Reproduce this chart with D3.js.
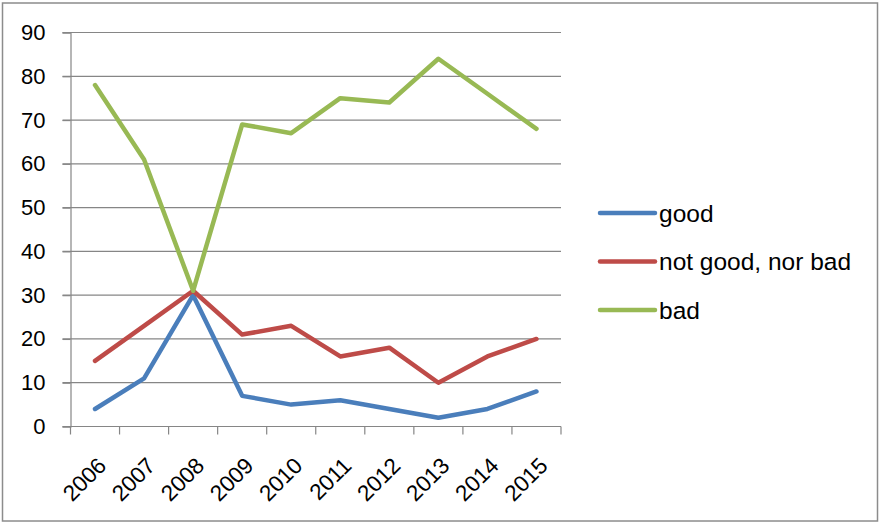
<!DOCTYPE html>
<html>
<head>
<meta charset="utf-8">
<script src="https://cdn.jsdelivr.net/npm/d3@7"></script>
<style>
  html, body { margin: 0; padding: 0; background: #fff; }
  svg { display: block; }
  text { font-family: "Liberation Sans", Arial, sans-serif; fill: #000; }
</style>
</head>
<body>
<svg id="chart" width="880" height="523"></svg>
<script>
// Survey answers per year
const years = ["2006","2007","2008","2009","2010","2011","2012","2013","2014","2015"];
const good = [4, 11, 30, 7, 5, 6, 4, 2, 4, 8];
const neutral = [15, 23, 31, 21, 23, 16, 18, 10, 16, 20];
const bad = [78, 61, 31, 69, 67, 75, 74, 84, 76, 68];
const seriesNames = ["good", "not good, nor bad", "bad"];
const seriesColors = ["#4A7EBB", "#BE4B48", "#98B954"];
const yTicks = [0, 10, 20, 30, 40, 50, 60, 70, 80, 90];

const series = [good, neutral, bad].map((vals, i) => ({
  name: seriesNames[i],
  color: seriesColors[i],
  values: vals.map((v, j) => ({ year: years[j], value: v }))
}));

const svg = d3.select("#chart");
const margin = { left: 70.5, right: 561, top: 32.5, bottom: 426.5 };

// outer frame
svg.append("rect")
  .attr("x", 2.5).attr("y", 3).attr("width", 875).attr("height", 518)
  .attr("fill", "#fff").attr("stroke", "#8c8c8c").attr("stroke-width", 1.5);

const x = d3.scaleBand().domain(years).range([margin.left, margin.right]);
const y = d3.scaleLinear().domain([0, 90]).range([margin.bottom, margin.top]);

// horizontal gridlines
svg.append("g")
  .selectAll("line")
  .data(yTicks)
  .join("line")
  .attr("x1", margin.left - 8).attr("x2", margin.right)
  .attr("y1", d => y(d)).attr("y2", d => y(d))
  .attr("stroke", "#868686").attr("stroke-width", 1.2);

// y axis
const yAxis = svg.append("g")
  .attr("transform", `translate(${margin.left},0)`)
  .call(d3.axisLeft(y).tickValues(yTicks).tickSize(8).tickPadding(17));
yAxis.select(".domain").attr("stroke", "#868686").attr("stroke-width", 1.2);
yAxis.selectAll(".tick line").attr("stroke", "#868686").attr("stroke-width", 1.2);
yAxis.selectAll("text")
  .style("font-family", "Liberation Sans, Arial, sans-serif")
  .style("font-size", "22px").attr("fill", "#000");

// x axis: ticks on the band boundaries
const xAxisG = svg.append("g").attr("transform", `translate(0,${margin.bottom})`);
xAxisG.append("line")
  .attr("x1", margin.left).attr("x2", margin.right)
  .attr("stroke", "#868686").attr("stroke-width", 1.2);
const bounds = years.map(d => x(d)).concat([x(years[years.length - 1]) + x.bandwidth()]);
xAxisG.selectAll("line.tk")
  .data(bounds)
  .join("line")
  .attr("class", "tk")
  .attr("x1", d => d).attr("x2", d => d)
  .attr("y1", 0).attr("y2", 8)
  .attr("stroke", "#868686").attr("stroke-width", 1.2);
xAxisG.selectAll("text")
  .data(years)
  .join("text")
  .attr("transform", d => `translate(${x(d) + x.bandwidth() / 2 + 7},${35}) rotate(-45)`)
  .attr("text-anchor", "end")
  .attr("dy", "0.35em")
  .style("font-size", "22.5px")
  .text(d => d);

// series lines
const line = d3.line()
  .x(d => x(d.year) + x.bandwidth() / 2)
  .y(d => y(d.value));

svg.append("g")
  .selectAll("path")
  .data(series)
  .join("path")
  .attr("d", d => line(d.values))
  .attr("fill", "none")
  .attr("stroke", d => d.color)
  .attr("stroke-width", 4.5)
  .attr("stroke-linejoin", "round")
  .attr("stroke-linecap", "round");

// legend
const legend = svg.append("g")
  .selectAll("g")
  .data(series)
  .join("g")
  .attr("transform", (d, i) => `translate(600,${213 + i * 48.5})`);
legend.append("line")
  .attr("x1", 0).attr("x2", 55)
  .attr("stroke", d => d.color)
  .attr("stroke-width", 4.5)
  .attr("stroke-linecap", "round");
legend.append("text")
  .attr("x", 59).attr("dy", "0.35em")
  .style("font-size", "24.5px")
  .text(d => d.name);
</script>
</body>
</html>
